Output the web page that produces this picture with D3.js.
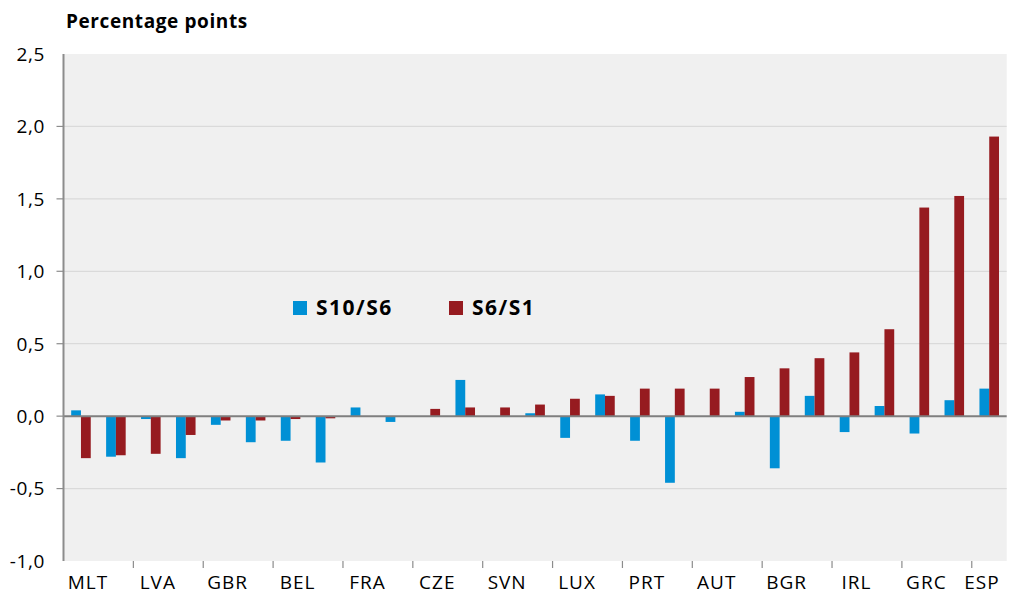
<!DOCTYPE html>
<html>
<head>
<meta charset="utf-8">
<script src="https://cdn.jsdelivr.net/npm/d3@7"></script>
<style>
  body { margin: 0; background: #fff; }
  text { font-family: "Open Sans", "Noto Sans", sans-serif; fill: #000; }
</style>
</head>
<body>
<div id="my_dataviz"></div>
<script>
// categories (only every second one carries a label in the original)
var countries = ["MLT", "", "LVA", "", "GBR", "", "BEL", "", "FRA", "", "CZE", "", "SVN", "",
                 "LUX", "", "PRT", "", "AUT", "", "BGR", "", "IRL", "", "GRC", "", "ESP"]
var series = ["S10/S6", "S6/S1"]

// values
var s10s6 = [0.04, -0.28, -0.02, -0.29, -0.06, -0.18, -0.17, -0.32, 0.06, -0.04, 0, 0.25, 0, 0.02,
             -0.15, 0.15, -0.17, -0.46, 0, 0.03, -0.36, 0.14, -0.11, 0.07, -0.12, 0.11, 0.19]
var s6s1 = [-0.29, -0.27, -0.26, -0.13, -0.03, -0.03, -0.02, -0.015, 0, 0, 0.05, 0.06, 0.06, 0.08,
            0.12, 0.14, 0.19, 0.19, 0.19, 0.27, 0.33, 0.40, 0.44, 0.60, 1.44, 1.52, 1.93]

var yTicks = [-1.0, -0.5, 0, 0.5, 1.0, 1.5, 2.0, 2.5]

// set the dimensions of the graph
var width = 1012
var height = 595
var plotLeft = 63.5, plotRight = 1006.7, plotTop = 54, plotBottom = 561

var svg = d3.select("#my_dataviz")
    .append("svg")
    .attr("width", width)
    .attr("height", height)

var color = d3.scaleOrdinal()
    .domain(series)
    .range(["#0090d5", "#961b20"])

var x = d3.scaleBand()
    .domain(d3.range(countries.length))
    .range([plotLeft, plotRight])
    .paddingInner(0.44)
    .paddingOuter(0.22)

var xSub = d3.scaleBand()
    .domain(series)
    .range([0, x.bandwidth()])

var y = d3.scaleLinear()
    .domain([-1, 2.5])
    .range([plotBottom, plotTop])

var fmt = function(d) { return d3.format(".1f")(d).replace(".", ",").replace("−", "-") }

// plot background
svg.append("rect")
    .attr("x", plotLeft).attr("y", plotTop)
    .attr("width", plotRight - plotLeft).attr("height", plotBottom - plotTop)
    .style("fill", "#f0f0f0")

// gridlines
svg.append("g")
    .selectAll("line")
    .data(yTicks.filter(function(d) { return d != 0 && d != -1 && d != 2.5 }))
    .enter()
    .append("line")
    .attr("x1", plotLeft).attr("x2", plotRight)
    .attr("y1", function(d) { return y(d) }).attr("y2", function(d) { return y(d) })
    .style("stroke", "#dadada")
    .style("stroke-width", 1.2)

// bars
var rows = countries.map(function(c, i) { return { i: i, values: [s10s6[i], s6s1[i]] } })

svg.append("g")
    .selectAll("g")
    .data(rows)
    .enter()
    .append("g")
    .attr("transform", function(d) { return "translate(" + x(d.i) + ",0)" })
    .selectAll("rect")
    .data(function(d) { return series.map(function(s, k) { return { key: s, value: d.values[k] } }) })
    .enter()
    .append("rect")
    .attr("x", function(d) { return xSub(d.key) })
    .attr("width", xSub.bandwidth())
    .attr("y", function(d) { return y(Math.max(0, d.value)) })
    .attr("height", function(d) { return Math.abs(y(d.value) - y(0)) })
    .style("fill", function(d) { return color(d.key) })

// zero line
svg.append("line")
    .attr("x1", plotLeft).attr("x2", plotRight)
    .attr("y1", y(0)).attr("y2", y(0))
    .style("stroke", "#7f7f7f")
    .style("stroke-width", 2)

// y axis
svg.append("line")
    .attr("x1", plotLeft).attr("x2", plotLeft)
    .attr("y1", plotTop).attr("y2", plotBottom)
    .style("stroke", "#8c8c8c")
    .style("stroke-width", 2)

svg.append("g")
    .selectAll("line")
    .data(yTicks.filter(function(d) { return d != -1 && d != 2.5 }))
    .enter()
    .append("line")
    .attr("x1", plotLeft - 7).attr("x2", plotLeft)
    .attr("y1", function(d) { return y(d) }).attr("y2", function(d) { return y(d) })
    .style("stroke", "#8c8c8c")
    .style("stroke-width", 1.2)

svg.append("g")
    .selectAll("text")
    .data(yTicks)
    .enter()
    .append("text")
    .attr("x", 45)
    .attr("y", function(d) { return y(d) })
    .attr("dy", "0.36em")
    .attr("text-anchor", "end")
    .style("font-size", "19px")
    .style("letter-spacing", "0.6px")
    .text(fmt)

// x axis ticks between pairs of categories
var step = x.step()
svg.append("g")
    .selectAll("line")
    .data(d3.range(2, countries.length, 2))
    .enter()
    .append("line")
    .attr("x1", function(i) { return x(i) - step * x.paddingInner() / 2 })
    .attr("x2", function(i) { return x(i) - step * x.paddingInner() / 2 })
    .attr("y1", plotBottom).attr("y2", plotBottom + 7)
    .style("stroke", "#8c8c8c")
    .style("stroke-width", 1.2)

svg.append("g")
    .selectAll("text")
    .data(rows.filter(function(d) { return countries[d.i] != "" }))
    .enter()
    .append("text")
    .attr("x", function(d) {
        if (d.i == countries.length - 1) return plotRight - 7
        return x(d.i) + x.bandwidth() / 2 + 7
    })
    .attr("y", 589)
    .attr("text-anchor", function(d) { return d.i == countries.length - 1 ? "end" : "middle" })
    .style("font-size", "19px")
    .style("letter-spacing", "1px")
    .text(function(d) { return countries[d.i] })

// title
svg.append("text")
    .attr("x", 66).attr("y", 28)
    .style("font-size", "19px")
    .style("letter-spacing", "0.6px")
    .style("font-weight", "bold")
    .text("Percentage points")

// legend
var legendX = [293, 449]
var legend = svg.append("g")
    .selectAll("g")
    .data(series)
    .enter()
    .append("g")
    .attr("transform", function(d, i) { return "translate(" + legendX[i] + ",301)" })
legend.append("rect")
    .attr("width", 14).attr("height", 14)
    .style("fill", function(d) { return color(d) })
legend.append("text")
    .attr("x", 23).attr("y", 14)
    .style("font-size", "21px")
    .style("letter-spacing", "1.5px")
    .style("font-weight", "bold")
    .text(function(d) { return d })
</script>
</body>
</html>
